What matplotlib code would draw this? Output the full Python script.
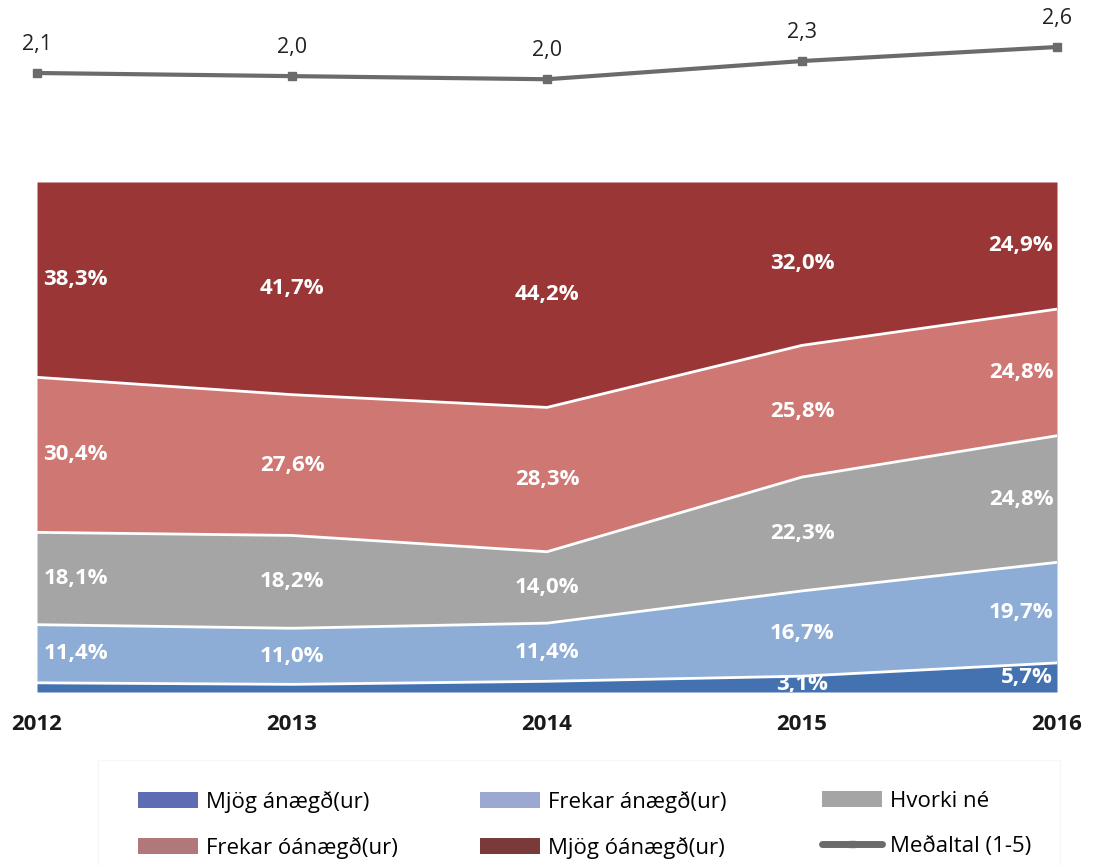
import numpy as np
import matplotlib
matplotlib.use("Agg")
import matplotlib.pyplot as plt
from matplotlib.patches import Patch, Rectangle
from matplotlib.lines import Line2D

years = [2012, 2013, 2014, 2015, 2016]
categories = ["Mjög ánægð(ur)", "Frekar ánægð(ur)", "Hvorki né",
              "Frekar óánægð(ur)", "Mjög óánægð(ur)"]
mjog_anaegd   = [1.8, 1.5, 2.1, 3.1, 5.7]
frekar_anaegd = [11.4, 11.0, 11.4, 16.7, 19.7]
hvorki_ne     = [18.1, 18.2, 14.0, 22.3, 24.8]
frekar_oanaegd = [30.4, 27.6, 28.3, 25.8, 24.8]
mjog_oanaegd  = [38.3, 41.7, 44.2, 32.0, 24.9]
medaltal = [2.1, 2.04, 1.98, 2.33, 2.6]

series = [mjog_anaegd, frekar_anaegd, hvorki_ne, frekar_oanaegd, mjog_oanaegd]
FILL   = ["#4472b0", "#8dadd6", "#a5a5a5", "#cf7773", "#9b3636"]
LEGC   = ["#5e6db3", "#9aa8d2", "#a5a5a8", "#b07878", "#7a3a3a"]
LINEC  = "#6b6b6b"

plt.rcParams["font.family"] = ["Open Sans", "DejaVu Sans"]

fig = plt.figure(figsize=(10.93, 8.65), dpi=100)
W, H = 1093, 865

# ── stacked areas ─────────────────────────────────────────────────────────────
ax = fig.add_axes([37 / W, 1 - 692 / H, 1020 / W, 510 / H])
data = np.array(series)
total = data.sum(axis=0)
data = data / total * 100
cum = np.vstack([np.zeros(len(years)), np.cumsum(data, axis=0)])
for i in range(len(series)):
    ax.fill_between(years, cum[i], cum[i + 1], color=FILL[i], lw=0)
for i in range(1, len(series)):
    ax.plot(years, cum[i], color="white", lw=2)

ax.set_xlim(2012, 2016)
ax.set_ylim(0, 100)
ax.set_yticks([])
ax.set_xticks(years)
ax.set_xticklabels([str(y) for y in years], fontsize=16, fontweight="bold",
                   color="#1a1a1a")
ax.tick_params(axis="x", length=0, pad=16)
for s in ax.spines.values():
    s.set_visible(False)

for i, vals in enumerate(series):
    for j, y in enumerate(years):
        v = vals[j]
        if v < 3:
            continue
        mid = (cum[i][j] + cum[i + 1][j]) / 2
        if j == 0:
            x, ha = y + 0.025, "left"
        elif j == len(years) - 1:
            x, ha = y - 0.015, "right"
        else:
            x, ha = y, "center"
        ax.text(x, mid, f"{v:.1f}%".replace(".", ","), color="white",
                fontsize=16, fontweight="bold", ha=ha, va="center", clip_on=True)

# ── average line on top ───────────────────────────────────────────────────────
lax = fig.add_axes([37 / W, 1 - 100 / H, 1020 / W, 70 / H])
lax.plot(years, medaltal, color=LINEC, lw=3, marker="s", ms=6, clip_on=False)
lax.set_xlim(2012, 2016)
lax.set_ylim(2.1 - 27 / 52, 2.1 - 27 / 52 + 70 / 52)
lax.axis("off")
for y, v in zip(years, medaltal):
    lax.text(y, v + 0.55, f"{v:.1f}".replace(".", ","), fontsize=15.5,
             ha="center", va="center", color="#222222", clip_on=False)

# ── legend (three columns, equally spaced) ────────────────────────────────────
h = [Patch(facecolor=LEGC[i], edgecolor="none", label=categories[i]) for i in range(5)]
h.append(Line2D([0], [0], color=LINEC, lw=5, marker="s", ms=5,
                solid_capstyle="round", label="Meðaltal (1-5)"))
fig.add_artist(Rectangle((98 / W, 0), 1060 / W - 98 / W, 1 - 760 / H,
                         transform=fig.transFigure, facecolor="white",
                         edgecolor="#f7f7f7", lw=1))
for c, x0 in enumerate([138, 480, 822]):
    fig.legend([h[c], h[c + 3]], [h[c].get_label(), h[c + 3].get_label()],
               loc="upper left", bbox_to_anchor=(x0 / W, 1 - 791 / H),
               fontsize=16, frameon=False, handlelength=2.7, handleheight=0.7,
               handletextpad=0.35, labelspacing=1.08, borderpad=0,
               borderaxespad=0)

fig.savefig("out.png", dpi=100)
